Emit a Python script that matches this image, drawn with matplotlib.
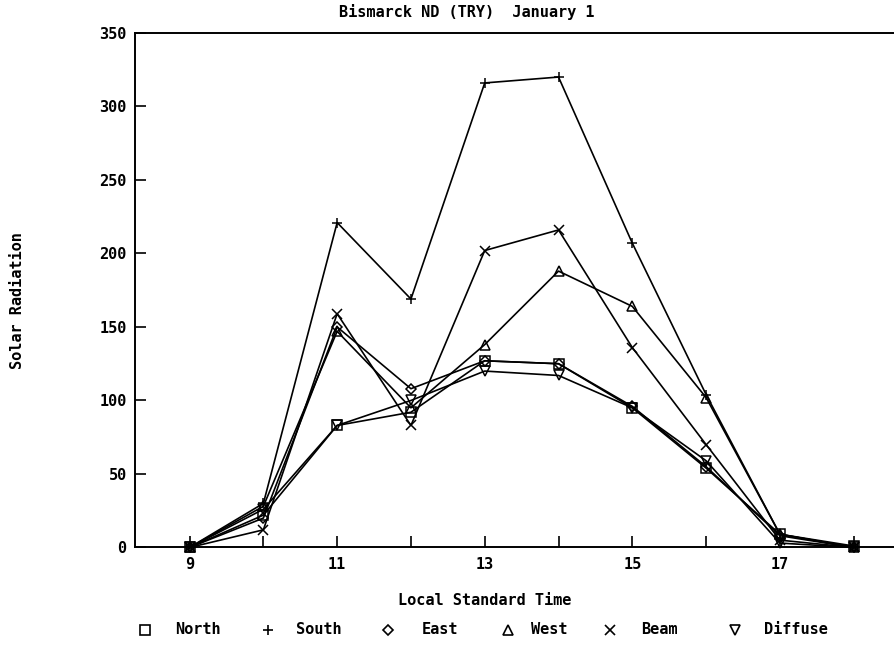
import matplotlib
matplotlib.use("Agg")
import matplotlib.pyplot as plt
from matplotlib.lines import Line2D

# -------------------------------
# DATA
# -------------------------------
hours = [9, 10, 11, 12, 13, 14, 15, 16, 17, 18]
north = [0, 22, 83, 92, 127, 125, 95, 54, 9, 1]
south = [0, 30, 221, 169, 316, 320, 207, 104, 9, 0]
east = [0, 20, 150, 108, 127, 125, 96, 55, 8, 0]
west = [0, 28, 147, 95, 138, 188, 164, 102, 9, 0]
beam = [0, 12, 159, 83, 202, 216, 136, 70, 5, 0]
diffuse = [0, 26, 83, 100, 120, 117, 95, 59, 3, 0]

names = ["North", "South", "East", "West", "Beam", "Diffuse"]
markers = ["s", "+", "D", "^", "x", "v"]
values = [north, south, east, west, beam, diffuse]

FAM = "DejaVu Sans Mono"
font = {"family": FAM, "weight": "bold", "size": 11}

fig = plt.figure(figsize=(8.95, 6.46), dpi=100)
ax = fig.add_axes([0.1508, 0.1525, 0.8492, 0.7965])

for name, vals, mk in zip(names, values, markers):
    ms = 5 if mk == "D" else 7
    ax.plot(hours, vals, color="black", lw=1.2, marker=mk,
            markersize=ms, markerfacecolor="none",
            markeredgecolor="black", markeredgewidth=1.1,
            clip_on=False)

ax.set_xlim(8.26, 18.56)
ax.set_ylim(0, 350)
ax.set_xticks([9, 11, 13, 15, 17])
ax.set_xticks(range(9, 19), minor=True)
ax.set_yticks(range(0, 351, 50))
ax.tick_params(axis="both", which="both", direction="in", length=8, width=1.2)
ax.tick_params(axis="x", pad=7)
ax.tick_params(axis="y", pad=6)
for lab in ax.get_xticklabels() + ax.get_yticklabels():
    lab.set_fontfamily(FAM)
    lab.set_fontweight("bold")
    lab.set_fontsize(11)

ax.spines["right"].set_visible(False)
for s in ["left", "top", "bottom"]:
    ax.spines[s].set_linewidth(1.4)

fig.text(0.522, 0.981, "Bismarck ND (TRY)  January 1", ha="center", va="center", **font)
fig.text(0.542, 0.071, "Local Standard Time", ha="center", va="center", **font)
fig.text(0.019, 0.535, "Solar Radiation", ha="center", va="center",
         rotation=90, **font)

# legend row below the x label
leg_marker_x = [145, 268, 388, 508, 610, 735]
leg_text_x = [175, 296, 422, 531, 641, 764]
leg_y = 1 - 630 / 646
for name, mk, mx, tx in zip(names, markers, leg_marker_x, leg_text_x):
    ms = 5 if mk == "D" else 7
    fig.add_artist(Line2D([mx / 895], [leg_y], lw=0, marker=mk, markersize=ms,
                          markerfacecolor="none", markeredgecolor="black",
                          markeredgewidth=1.2, transform=fig.transFigure))
    fig.text(tx / 895, leg_y, name, ha="left", va="center", **font)

plt.savefig("out.png", dpi=100)
